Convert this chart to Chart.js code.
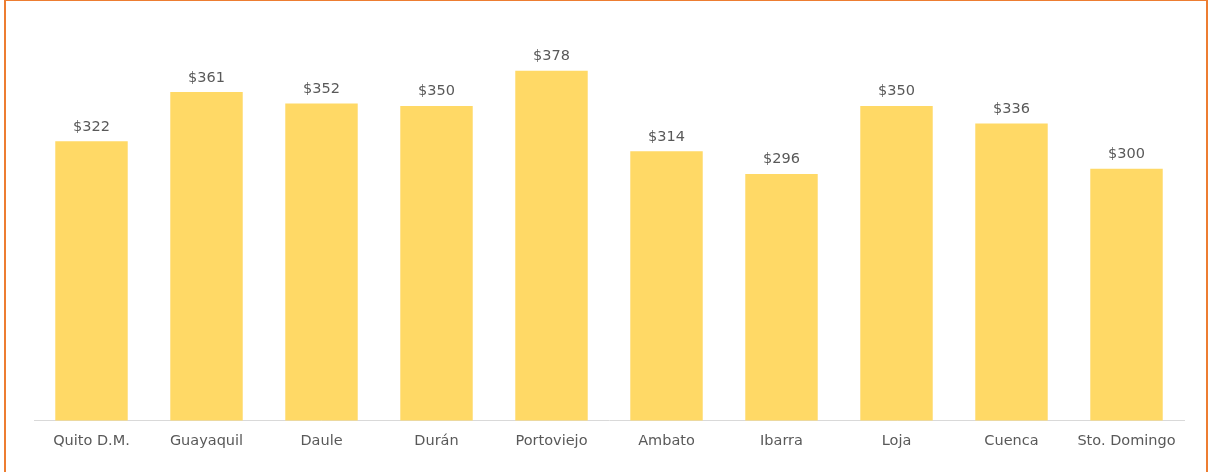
<!DOCTYPE html>
<html>
<head>
<meta charset="utf-8">
<script src="https://cdn.jsdelivr.net/npm/chart.js@4.4.0/dist/chart.umd.min.js"></script>
<style>
  html, body { margin: 0; padding: 0; background: #fff; overflow: hidden; }
  #frame {
    position: absolute; left: 4px; top: -1px; width: 1204px; height: 490px;
    border: 2px solid #ED7D31; box-sizing: border-box;
  }
  #wrap { position: absolute; left: 0; top: 0; width: 1212px; height: 472px; }
</style>
</head>
<body>
<div id="frame"></div>
<div id="wrap"><canvas id="chart"></canvas></div>
<script>
// Data
const cities = ['Quito D.M.', 'Guayaquil', 'Daule', 'Durán', 'Portoviejo', 'Ambato', 'Ibarra', 'Loja', 'Cuenca', 'Sto. Domingo'];
const values = [322, 361, 352, 350, 378, 314, 296, 350, 336, 300];

const textColor = '#595959';
const fontFamily = "'DejaVu Sans', sans-serif";

// Draw $ value above each bar
const valueLabels = {
  id: 'valueLabels',
  afterDatasetsDraw(chart) {
    const { ctx } = chart;
    const meta = chart.getDatasetMeta(0);
    ctx.save();
    ctx.fillStyle = textColor;
    ctx.font = `14.5px ${fontFamily}`;
    ctx.textAlign = 'center';
    ctx.textBaseline = 'bottom';
    meta.data.forEach((bar, i) => {
      ctx.fillText('$' + values[i], bar.x, bar.y - 7);
    });
    ctx.restore();
  }
};

new Chart(document.getElementById('chart'), {
  type: 'bar',
  data: {
    labels: cities,
    datasets: [{
      data: values,
      backgroundColor: '#FFD966',
      borderWidth: 0,
      barPercentage: 0.7,
      categoryPercentage: 0.9
    }]
  },
  options: {
    responsive: true,
    maintainAspectRatio: false,
    animation: false,
    layout: { padding: { left: 34, right: 28, top: 43, bottom: 10 } },
    plugins: {
      legend: { display: false },
      tooltip: { enabled: false }
    },
    scales: {
      x: {
        grid: { display: false, drawTicks: false },
        border: { color: '#D9D9D9', width: 1 },
        ticks: { color: textColor, font: { family: fontFamily, size: 14.5 }, padding: 12, maxRotation: 0 }
      },
      y: {
        display: false,
        min: 100,
        max: 400
      }
    }
  },
  plugins: [valueLabels]
});
</script>
</body>
</html>
